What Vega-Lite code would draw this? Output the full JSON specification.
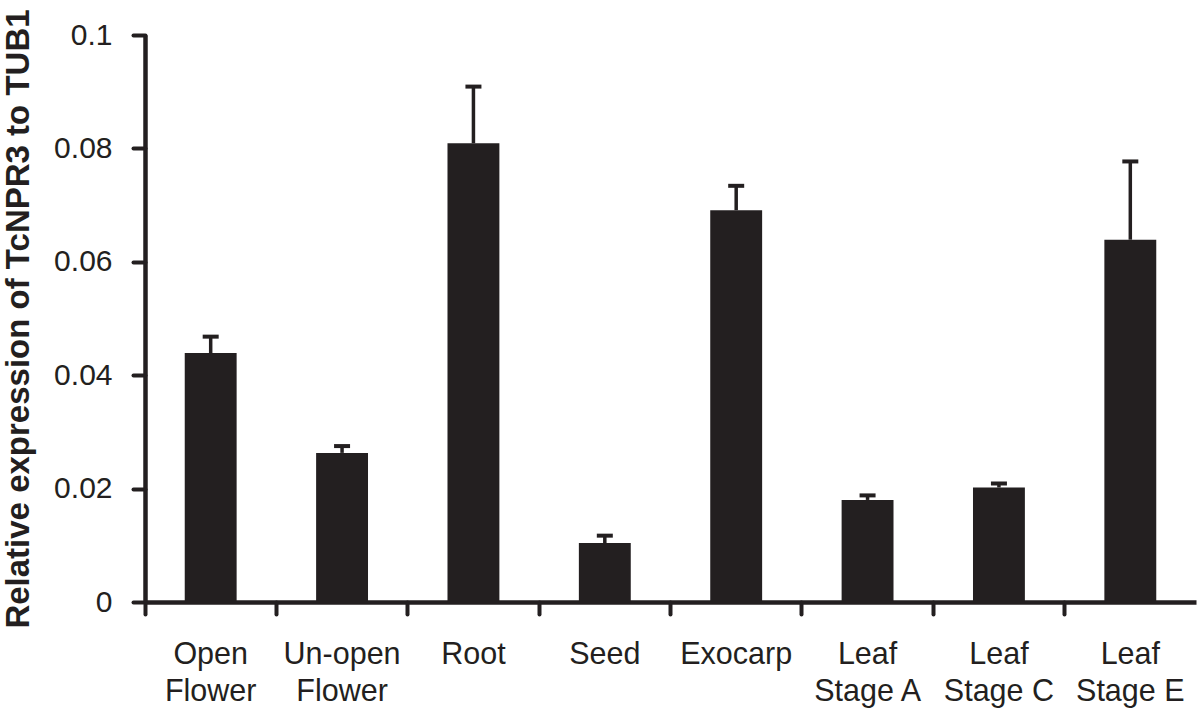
{
  "$schema": "https://vega.github.io/schema/vega-lite/v6.json",
  "autosize": "none",
  "width": 1051,
  "height": 567,
  "padding": {"left": 145, "top": 35, "right": 4, "bottom": 110},
  "background": "white",
  "config": {"view": {"stroke": null}, "font": "Liberation Sans"},
  "data": {
    "values": [
      {"tissue": "Open Flower", "value": 0.0439, "upper": 0.0468},
      {"tissue": "Un-open Flower", "value": 0.0263, "upper": 0.0275},
      {"tissue": "Root", "value": 0.0809, "upper": 0.0909},
      {"tissue": "Seed", "value": 0.0104, "upper": 0.0117},
      {"tissue": "Exocarp", "value": 0.0691, "upper": 0.0734},
      {"tissue": "Leaf Stage A", "value": 0.0180, "upper": 0.0188},
      {"tissue": "Leaf Stage C", "value": 0.0202, "upper": 0.0209},
      {"tissue": "Leaf Stage E", "value": 0.0639, "upper": 0.0777}
    ]
  },
  "encoding": {
    "x": {
      "field": "tissue",
      "type": "nominal",
      "sort": null,
      "scale": {"paddingInner": 0, "paddingOuter": 0},
      "axis": {
        "title": null,
        "labelAngle": 0,
        "labelExpr": "indexof(datum.value, 'Leaf ') == 0 ? ['Leaf', substring(datum.value, 5)] : split(datum.value, ' ')",
        "labelFont": "Liberation Sans",
        "labelFontSize": 30.5,
        "labelColor": "#231f20",
        "labelLineHeight": 37,
        "labelPadding": 25,
        "labelBaseline": "top",
        "bandPosition": 0,
        "domainColor": "#231f20",
        "domainWidth": 4.5,
        "tickColor": "#231f20",
        "tickWidth": 4,
        "tickSize": 12,
        "tickCap": "round",
        "grid": false
      }
    }
  },
  "layer": [
    {
      "mark": {"type": "bar", "color": "#231f20", "width": {"band": 0.395}},
      "encoding": {
        "y": {
          "field": "value",
          "type": "quantitative",
          "scale": {"domain": [0, 0.1], "nice": false},
          "axis": {
            "title": "Relative expression of TcNPR3 to TUB1",
            "titleFont": "Liberation Sans",
            "titleFontSize": 33,
            "titleFontWeight": "bold",
            "titleColor": "#231f20",
            "titlePadding": 18,
            "values": [0, 0.02, 0.04, 0.06, 0.08, 0.1],
            "format": ".2~f",
            "labelFont": "Liberation Sans",
            "labelFontSize": 30,
            "labelColor": "#231f20",
            "labelPadding": 21,
            "domainColor": "#231f20",
            "domainWidth": 4.5,
            "tickColor": "#231f20",
            "tickWidth": 4,
            "tickSize": 12,
            "tickCap": "round",
            "grid": false
          }
        }
      }
    },
    {
      "mark": {"type": "rule", "color": "#231f20", "strokeWidth": 3.5},
      "encoding": {
        "y": {"field": "value", "type": "quantitative"},
        "y2": {"field": "upper"}
      }
    },
    {
      "mark": {"type": "tick", "color": "#231f20", "opacity": 1, "size": 16, "thickness": 4},
      "encoding": {
        "y": {"field": "upper", "type": "quantitative"}
      }
    }
  ]
}
